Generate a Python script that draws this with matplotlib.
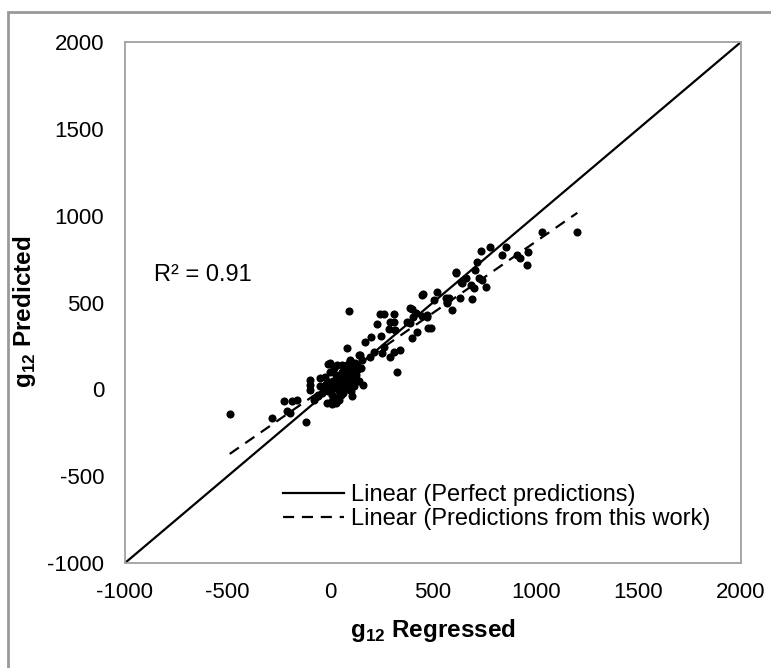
import numpy as np
import matplotlib
matplotlib.use('Agg')
import matplotlib.pyplot as plt
from matplotlib.patches import Rectangle

plt.rcParams['font.family'] = ['Liberation Sans', 'DejaVu Sans']
plt.rcParams['mathtext.fontset'] = 'custom'
plt.rcParams['mathtext.rm'] = 'Liberation Sans'
plt.rcParams['mathtext.bf'] = 'Liberation Sans:bold'
plt.rcParams['axes.unicode_minus'] = False

# g12 regressed (x) vs g12 predicted (y)
g12_regressed = [
    -60, -40, -30, -20, -10, 0, 5, 10, 15, 20, 25, 30, 35, 40, 45, 50, 55, 60, 65, 70,
    75, 80, 85, 90, 95, 100, 105, 110, 115, 120, 125, 130, 140, 150, -80, -50, -25, 0, 10, 20,
    40, 60, 80, 100, -5, 30, 50, 70, 90, 120,
    -490, -284, -228, -187, -160, -211, -195, -117, -98, -98, -98, -62, -49, -11, -16, 8, 32, 81, 138, 93,
    244, 260, 228, 309, 309, 167, 200, 249, 284, 317, 374, 390, 398, 415, 452, 520, 504, 566, 577, 612,
    593, 488, 472, 447, 398, 423, 341, 309, 293, 260, 252, 211, 195, 146, 155, 98, 114, 0, 32, 57,
    326, 160, 293, 390, 405, 478,
    1203, 1032, 959, 963, 922, 911, 854, 837, 780, 732, 715, 704, 610, 634, 659, 723, 740, 756, 691, 631,
    447, 561, 569, 683, 699, 642, 472,
]
g12_predicted = [
    -40, -20, 10, 30, -10, 0, 20, -30, 50, 10, -50, 80, 30, -10, 60, 20, 100, -20, 40, 120,
    70, 0, 90, 30, 130, 60, -40, 100, 20, 150, 80, 110, 50, 120, -60, 20, 70, 100, -70, 120,
    -60, 80, 140, -10, 40, -80, -30, 10, 150, 40,
    -140, -165, -67, -66, -61, -125, -136, -186, 54, 25, -3, -33, 67, 146, -80, -84, -52, 236, 198, 451,
    432, 432, 376, 432, 390, 274, 303, 307, 346, 342, 390, 380, 461, 441, 547, 562, 514, 505, 524, 672,
    457, 355, 418, 422, 294, 332, 226, 216, 188, 246, 208, 216, 188, 198, 169, 169, 140, 150, 140, 140,
    102, 27, 390, 467, 418, 353,
    908, 908, 716, 789, 758, 773, 821, 773, 821, 797, 735, 687, 674, 620, 640, 640, 630, 588, 518, 524,
    543, 524, 495, 601, 582, 611, 428,
]

# trendline of the predictions (slope, intercept) and its x range
trend_coef = [0.82, 30]
trend_x = [-490, 1203]
perfect_x = [-1000, 2000]

ticks = [-1000, -500, 0, 500, 1000, 1500, 2000]

fig = plt.figure(figsize=(7.71, 6.68), dpi=100)
fig.patches.append(Rectangle((8 / 771, -0.1), 1.2, 1.1 - 12 / 668, transform=fig.transFigure,
                             fill=False, edgecolor='#999999', linewidth=2))
ax = fig.add_axes([125 / 771, 1 - 563 / 668, 616 / 771, 521 / 668])

ax.scatter(g12_regressed, g12_predicted, s=34, color='black', zorder=3, linewidths=0)
ax.plot(perfect_x, perfect_x, color='black', linewidth=1.6, label='Linear (Perfect predictions)')
tx = np.array(trend_x)
ax.plot(tx, np.polyval(trend_coef, tx), color='black', linewidth=1.6, dashes=(5, 3.5),
        label='Linear (Predictions from this work)')

ax.set_xlim(-1000, 2000)
ax.set_ylim(-1000, 2000)
ax.set_xticks(ticks)
ax.set_yticks(ticks)
ax.tick_params(axis='both', length=0, labelsize=16)
ax.tick_params(axis='x', pad=14)
ax.tick_params(axis='y', pad=15)
for s in ax.spines.values():
    s.set_color('#a0a0a0')
    s.set_linewidth(1.3)

ax.set_xlabel(r'g$_{\mathbf{12}}$ Regressed', fontsize=17.5, fontweight='bold', labelpad=10)
ax.set_ylabel(r'g$_{\mathbf{12}}$ Predicted', fontsize=17.5, fontweight='bold')
ax.yaxis.set_label_coords(-0.142, 0.482)

ax.text(-860, 660, 'R² = 0.91', fontsize=17, va='center', ha='left')

ax.legend(loc='upper left', bbox_to_anchor=(0.256, 0.152), frameon=False, fontsize=17,
          borderpad=0, handlelength=2.6, handletextpad=0.3, labelspacing=0.1, borderaxespad=0)

fig.savefig('out.png', dpi=100)
